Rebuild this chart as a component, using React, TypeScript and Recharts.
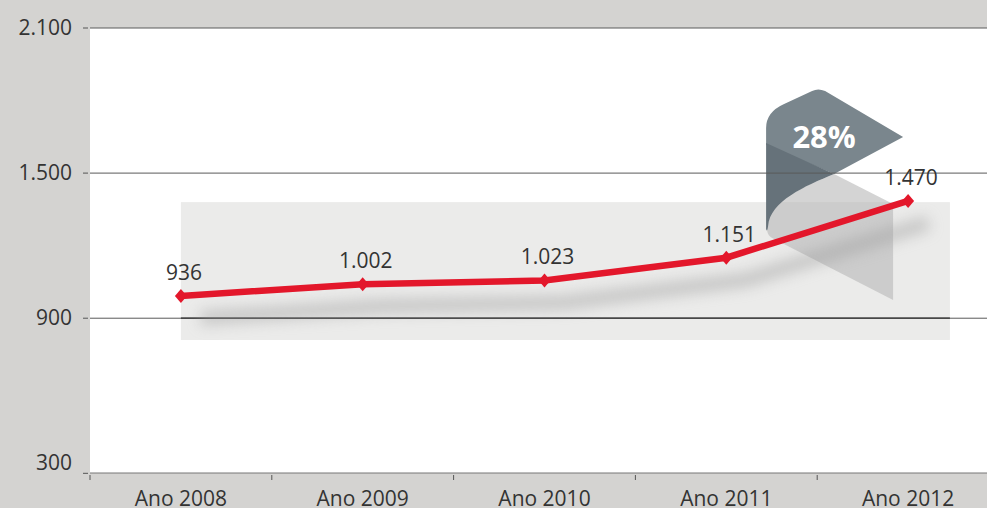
import {
  CartesianGrid,
  LabelList,
  Line,
  LineChart,
  ReferenceArea,
  ReferenceLine,
  XAxis,
  YAxis,
} from 'recharts';

const years = ['Ano 2008', 'Ano 2009', 'Ano 2010', 'Ano 2011', 'Ano 2012'];
const totals = [936, 1002, 1023, 1151, 1470];
const yTicks = [300, 900, 1500, 2100];
const gridValues = [900, 1500, 2100];
const growthLabel = '28%';

const data = years.map((year, i) => ({ year, total: totals[i] }));

const CHART_W = 999;
const CHART_H = 508;
const Y_AXIS_W = 90;
const BAND = (CHART_W - Y_AXIS_W) / years.length;

const RED = '#e3172b';
const TEXT = '#333333';
const FONT = '"Open Sans", "Noto Sans", sans-serif';

function formatPt(n: number) {
  if (n < 1000) return String(n);
  return `${Math.floor(n / 1000)}.${String(n % 1000).padStart(3, '0')}`;
}

function XTick({ x, y, payload }: any) {
  return (
    <g>
      <line x1={x - BAND / 2} x2={x - BAND / 2} y1={y} y2={y + 5} stroke="#555" />
      <text x={x} y={y + 31} textAnchor="middle" fill={TEXT} fontSize={21} fontFamily={FONT}>
        {payload.value}
      </text>
    </g>
  );
}

function YTick({ x, y, payload }: any) {
  // the lowest tick's stub sits on the x axis line
  const stubY = payload.value === yTicks[0] ? y + 10 : y;
  return (
    <g>
      <line x1={x - 5} x2={x} y1={stubY} y2={stubY} stroke="#555" />
      <text x={x - 16} y={y + 7} textAnchor="end" fill={TEXT} fontSize={21} fontFamily={FONT}>
        {formatPt(payload.value)}
      </text>
    </g>
  );
}

function Diamond({ cx, cy }: any) {
  if (cx == null || cy == null) return null;
  return <polygon points={`${cx},${cy - 7} ${cx + 6},${cy} ${cx},${cy + 7} ${cx - 6},${cy}`} fill={RED} />;
}

function ValueLabel({ x, y, value }: any) {
  return (
    <text x={x + 3} y={y - 16} textAnchor="middle" fill={TEXT} fontSize={21} fontFamily={FONT}>
      {formatPt(value)}
    </text>
  );
}

// backdrop box: from the first point to a little past the last one
function BackdropBox({ x, y, width, height, fill }: any) {
  return <rect x={x} y={y} width={width + BAND * 0.23} height={height} fill={fill} />;
}

// pennant anchored on the last point (bottom edge of the area = last value)
function Callout({ x, y, width, height }: any) {
  const cx = x + width;
  const cy = y + height;
  const p = (dx: number, dy: number) => `${cx + dx},${cy + dy}`;
  const flag = `M${p(-142, -56)} L${p(-142, -73)} Q${p(-142, -89)} ${p(-124, -97)} L${p(-96, -110)} Q${p(-90, -113)} ${p(-83, -110)} L${p(-5, -64)} L${p(-74, -27)} Z`;
  const dark = `M${p(-142, -58)} L${p(-74, -27)} C${p(-103, -15)} ${p(-138, 0)} ${p(-140, 25)} Q${p(-141, 32)} ${p(-142, 28)} Z`;
  const fold = `M${p(-74, -27)} L${p(-15, 3)} L${p(-15, 99)} L${p(-136, 37)} C${p(-143, 33)} ${p(-141, 25)} ${p(-140, 20)} C${p(-138, 0)} ${p(-103, -15)} ${p(-74, -27)} Z`;
  return (
    <g>
      <path d={fold} fill="#b8b8b8" fillOpacity={0.6} />
      <path d={flag} fill="#7a868d" />
      <path d={dark} fill="#66727a" />
      <text x={cx - 84} y={cy - 53} textAnchor="middle" fill="#ffffff" fontSize={31} fontWeight={700} fontFamily={FONT}>
        {growthLabel}
      </text>
    </g>
  );
}

export default function App() {
  const last = totals[totals.length - 1];
  return (
    <div
      style={{
        position: 'absolute',
        left: 0,
        top: 0,
        width: 987,
        height: 508,
        overflow: 'hidden',
        background: '#d4d3d1',
        fontFamily: FONT,
      }}
    >
      <LineChart width={CHART_W} height={CHART_H} data={data} margin={{ top: 28, right: 0, bottom: 0, left: 0 }}>
        <CartesianGrid horizontal={false} vertical={false} fill="#ffffff" />
        <XAxis
          dataKey="year"
          height={35}
          padding={{ left: BAND / 2, right: BAND / 2 }}
          axisLine={{ stroke: '#777' }}
          tickLine={false}
          tickSize={0}
          tick={<XTick />}
          interval={0}
        />
        <YAxis
          yAxisId="left"
          width={Y_AXIS_W}
          domain={[260, 2100]}
          ticks={yTicks}
          axisLine={false}
          tickLine={false}
          tickSize={0}
          tick={<YTick />}
          allowDataOverflow
        />
        <YAxis yAxisId="line" hide domain={[-59, 2442]} />
        <YAxis yAxisId="shadow" hide domain={[65, 2566]} />
        {gridValues.map((v) => (
          <ReferenceLine key={v} yAxisId="left" y={v} stroke="#5a5a5a" strokeWidth={1} />
        ))}
        <ReferenceArea yAxisId="left" y1={810} y2={1380} fill="#ebebea" fillOpacity={1} shape={<BackdropBox />} />
        <ReferenceArea yAxisId="left" y1={897} y2={903} fill="#111111" fillOpacity={1} shape={<BackdropBox />} />
        <ReferenceArea yAxisId="line" y1={last} y2={last + 10} ifOverflow="visible" shape={<Callout />} />
        <Line
          yAxisId="shadow"
          dataKey="total"
          stroke="#999999"
          strokeOpacity={0.45}
          strokeWidth={14}
          dot={false}
          activeDot={false}
          isAnimationActive={false}
          style={{ filter: 'blur(7px)', transform: 'translateX(20px)' }}
        />
        <Line
          yAxisId="line"
          dataKey="total"
          stroke={RED}
          strokeWidth={6.5}
          dot={<Diamond />}
          activeDot={false}
          isAnimationActive={false}
        >
          <LabelList dataKey="total" content={<ValueLabel />} />
        </Line>
      </LineChart>
    </div>
  );
}
